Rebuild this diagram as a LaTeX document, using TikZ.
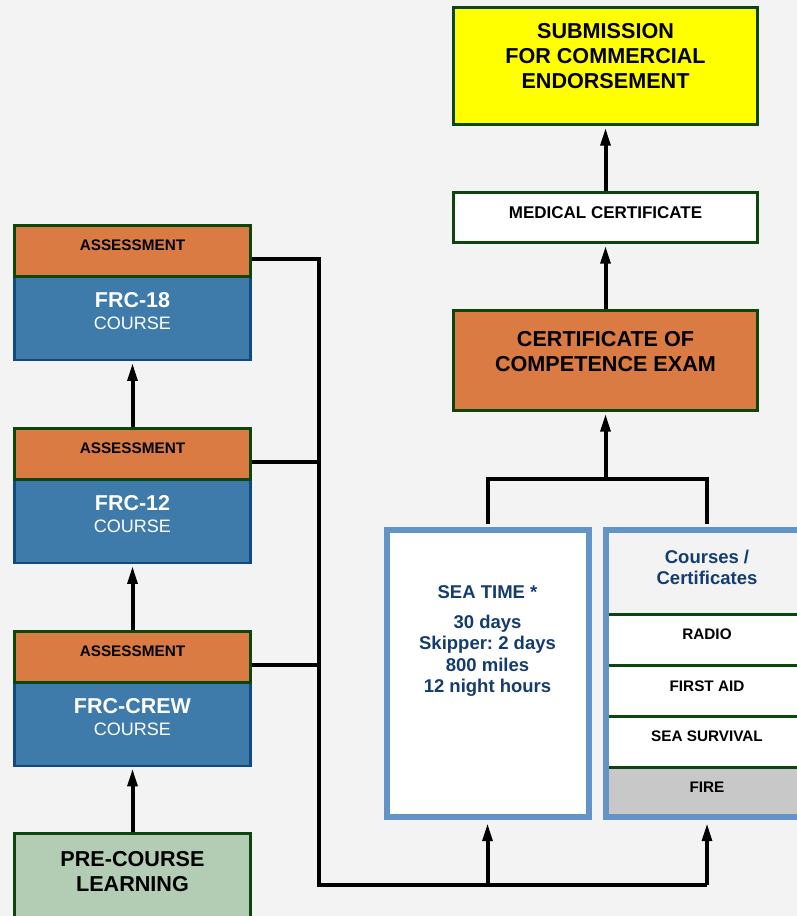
\documentclass[tikz,border=0pt]{standalone}
\usepackage{fontspec}
\setmainfont{Liberation Sans}
\usetikzlibrary{arrows.meta}
\definecolor{bg}{HTML}{F3F3F3}
\definecolor{dgreen}{HTML}{0D460D}
\definecolor{orangec}{HTML}{D97B43}
\definecolor{coursefill}{HTML}{3E7AAA}
\definecolor{courseedge}{HTML}{0E4B82}
\definecolor{seaedge}{HTML}{6394C8}
\definecolor{navy}{HTML}{143C6E}
\definecolor{sage}{HTML}{B3CDB4}
\definecolor{firegray}{HTML}{C8C8C8}
\definecolor{signyellow}{HTML}{FFFF00}

\begin{document}
\frenchspacing
\begin{tikzpicture}[x=1pt,y=-1pt,
  frame/.style={draw=dgreen,line width=3pt,inner sep=0pt},
  coursebox/.style={draw=courseedge,fill=coursefill,line width=2.5pt,inner sep=0pt,
    minimum width=236pt,minimum height=84pt},
  assessbox/.style={frame,fill=orangec,minimum width=236pt,minimum height=50.5pt},
  bluebox/.style={draw=seaedge,line width=6pt,inner sep=0pt,
    minimum width=202pt,minimum height=287pt},
  wire/.style={line width=4pt},
  arr/.style={wire,-{Triangle[length=18pt,width=9.5pt]}},
  tsmall/.style={inner sep=0pt,align=center,font=\bfseries\fontsize{15.3}{18}\selectfont},
  tmed/.style={inner sep=0pt,align=center,font=\bfseries\fontsize{17}{20}\selectfont},
  tbig/.style={inner sep=0pt,align=center,font=\bfseries\fontsize{21.6}{25}\selectfont},
  tcourse/.style={inner sep=0pt,align=center,text=white,font=\fontsize{18}{21}\selectfont},
  tsea/.style={inner sep=0pt,align=center,text=navy,font=\bfseries\fontsize{18.5}{21.5}\selectfont}
]
\clip (0,0) rectangle (797,916);
\fill[bg] (0,0) rectangle (797,916);

% ---------- left column: courses with assessments ----------
\foreach \nm/\dy/\lbl in {18/0/FRC-18, 12/203/FRC-12, crew/406/FRC-CREW}{
  \node[coursebox] (c\nm) at (132.5,318+\dy) {};
  \node[assessbox] (a\nm) at (132.5,250.75+\dy) {};
  \node[tsmall] (at\nm) at (132.5,245.5+\dy) {ASSESSMENT};
  \node[tcourse,font=\bfseries\fontsize{21.5}{25}\selectfont] (ct\nm) at (132.5,300+\dy) {\lbl};
  \node[tcourse] (cc\nm) at (132.5,323.5+\dy) {COURSE};
}
\node[frame,fill=sage,minimum width=236pt,minimum height=100pt] (pre) at (132.5,883.5) {};
\node[tbig] (pretext) at (132.5,871.5) {PRE-COURSE\\LEARNING};

% ---------- right column ----------
\node[frame,fill=signyellow,minimum width=304pt,minimum height=117pt] (sub) at (605.5,66) {};
\node[tbig] (subtext) at (605.5,56) {SUBMISSION\\FOR COMMERCIAL\\ENDORSEMENT};

\node[frame,fill=white,minimum width=304pt,minimum height=50pt] (med) at (605.5,217.5) {};
\node[tmed] (medtext) at (605.5,213) {MEDICAL CERTIFICATE};

\node[frame,fill=orangec,minimum width=304pt,minimum height=100pt] (coc) at (605.5,360.5) {};
\node[tbig] (coctext) at (605.5,351.5) {CERTIFICATE OF\\COMPETENCE EXAM};

% sea time box
\node[bluebox,fill=white] (sea) at (487.5,673.5) {};
\node[tsea] (seatitle) at (487.5,592) {SEA TIME *};
\node[tsea] (seabody) at (487.5,655.5) {30 days\\Skipper: 2 days\\800 miles\\12 night hours};

% courses / certificates box
\fill[white] (609,614) rectangle (805,767);
\fill[firegray] (609,767) rectangle (805,814);
\foreach \yy in {614,665,716,767}
  \draw[dgreen,line width=3pt] (609,\yy) -- (805,\yy);
\node[bluebox] (crs) at (707,673.5) {};
\node[tsea] (crstitle) at (707,567.5) {Courses /\\Certificates};
\node[tsmall] (radio) at (707,634) {RADIO};
\node[tsmall] (firstaid) at (707,686) {FIRST AID};
\node[tsmall] (survival) at (707,736) {SEA SURVIVAL};
\node[tsmall] (fire) at (707,787) {FIRE};

% ---------- connectors ----------
\coordinate (bus) at (318.5,885);
\coordinate (join) at (605.5,479);

\draw[arr,shorten >=1pt] (pre.north) -- (ccrew.south);
\draw[arr,shorten >=1.5pt] (acrew.north) -- (c12.south);
\draw[arr,shorten >=1.5pt] (a12.north) -- (c18.south);

\draw[wire] ([yshift=-8pt]a18.east) -| (bus) -- (bus -| crs.south);
\draw[wire] ([yshift=-8pt]a12.east) -- ([yshift=-8pt]a12.east -| bus);
\draw[wire] ([yshift=-8pt]acrew.east) -- ([yshift=-8pt]acrew.east -| bus);
\draw[arr,shorten >=3pt] (bus -| sea.south) -- (sea.south);
\draw[arr,shorten >=3pt] (bus -| crs.south) -- (crs.south);

\draw[wire] ([yshift=3pt]sea.north) |- (join) -| ([yshift=3pt]crs.north);
\draw[arr,shorten >=1.5pt] (join) -- (coc.south);
\draw[arr,shorten >=1.5pt] (coc.north) -- (med.south);
\draw[arr,shorten >=1.5pt] (med.north) -- (sub.south);
\end{tikzpicture}
\end{document}
